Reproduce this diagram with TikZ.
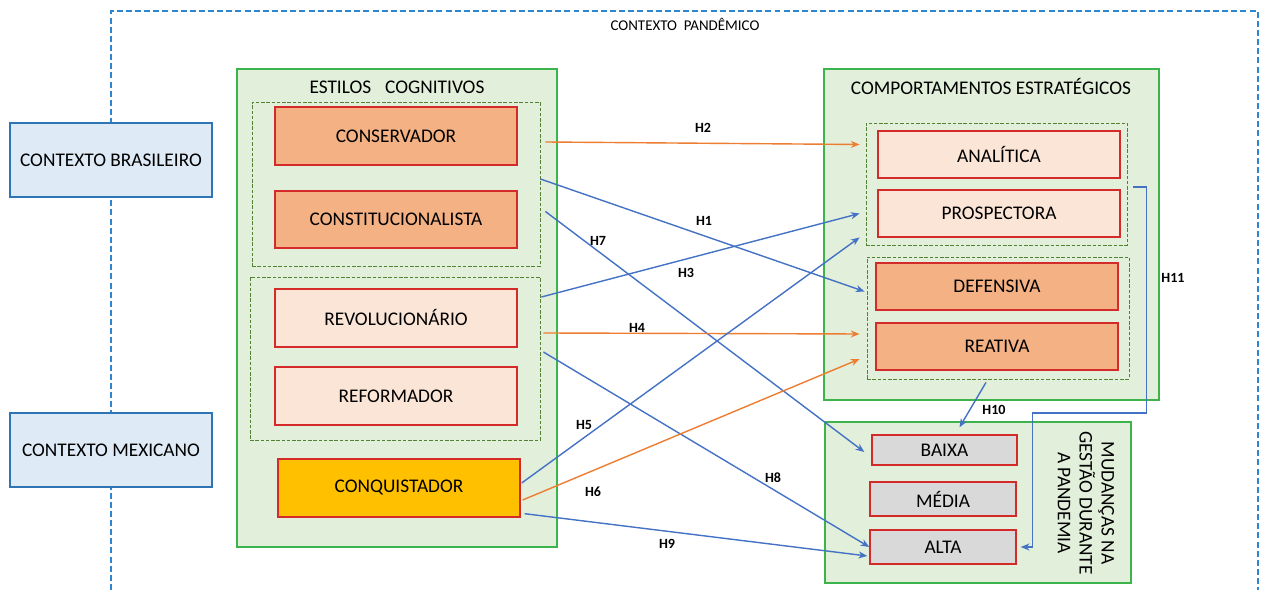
\documentclass[tikz,border=0pt]{standalone}
\usepackage{fontspec}
\setmainfont{Carlito}
\usepackage{tikz}
\usetikzlibrary{positioning,arrows.meta,calc}

\definecolor{pandblue}{HTML}{2E86D0}
\definecolor{ctxfill}{HTML}{DEEBF7}
\definecolor{ctxline}{HTML}{2E75B6}
\definecolor{grpfill}{HTML}{E2EFDA}
\definecolor{grpline}{HTML}{3CB44B}
\definecolor{dashline}{HTML}{548235}
\definecolor{boxred}{HTML}{D42A2A}
\definecolor{stylorange}{HTML}{F4B183}
\definecolor{stylpeach}{HTML}{FBE5D6}
\definecolor{stylgold}{HTML}{FFC000}
\definecolor{stylgray}{HTML}{D9D9D9}
\definecolor{arrblue}{HTML}{4472C4}
\definecolor{arrorange}{HTML}{ED7D31}

\begin{document}
\begin{tikzpicture}[
  x=0.02cm, y=-0.02cm,
  >={Stealth[length=5pt,width=4pt]},
  every node/.style={font=\fontsize{11}{12.6}\selectfont, inner sep=0pt},
  ctxbox/.style={draw=ctxline, fill=ctxfill, line width=0.9pt,
                 minimum width=4.04cm, minimum height=1.48cm},
  panel/.style={draw=grpline, fill=grpfill, line width=0.8pt},
  dashgroup/.style={draw=dashline, fill=grpfill, dash pattern=on 2pt off 1pt, line width=0.5pt},
  stylebox/.style={draw=boxred, line width=0.8pt, minimum width=4.84cm},
  harrow/.style={->, arrblue, line width=0.8pt},
  oarrow/.style={->, arrorange, line width=0.8pt},
  hlabel/.style={font=\fontsize{8}{9}\selectfont\bfseries}
]
\useasboundingbox (0,0) rectangle (1261,590);

% --- Pandemic context frame ---
\draw[pandblue, line width=0.8pt, dash pattern=on 3.4pt off 1.8pt]
  (111,590) -- (111,11) -- (1258,11) -- (1258,590);
\node[font=\fontsize{8.5}{10}\selectfont] (pandtitle) at (685,24) {CONTEXTO\ \ PANDÊMICO};

% --- Country contexts ---
\node[ctxbox] (bras) at (111,160) {CONTEXTO BRASILEIRO};
\node[ctxbox] (mex) at (111,450) {CONTEXTO MEXICANO};

% --- Cognitive styles ---
\node[panel, minimum width=6.4cm, minimum height=9.56cm] (estilos) at (397,308) {};
\node (estilostitle) at (397,87) {ESTILOS\hspace{8pt}COGNITIVOS};
\node[dashgroup, minimum width=5.76cm, minimum height=3.28cm] (grp1) at (396,184) {};
\node[dashgroup, minimum width=5.8cm, minimum height=3.26cm] (grp2) at (395,358.5) {};
\node[stylebox, fill=stylorange, minimum height=1.16cm] (conserv) at (396,136) {CONSERVADOR};
\node[stylebox, fill=stylorange, minimum height=1.14cm] (constit) at (396,219.5) {CONSTITUCIONALISTA};
\node[stylebox, fill=stylpeach, minimum height=1.16cm] (revol) at (396,318) {REVOLUCIONÁRIO};
\node[stylebox, fill=stylpeach, minimum height=1.16cm] (reform) at (396,396) {REFORMADOR};
\node[stylebox, fill=stylgold, minimum height=1.16cm] (conq) at (399,488) {CONQUISTADOR};

% --- Strategic behaviours ---
\node[panel, minimum width=6.7cm, minimum height=6.62cm] (comport) at (991.5,234.5) {};
\node (comporttitle) at (991,87) {COMPORTAMENTOS ESTRATÉGICOS};
\node[dashgroup, minimum width=5.22cm, minimum height=2.44cm] (grpA) at (996.5,184) {};
\node[dashgroup, minimum width=5.24cm, minimum height=2.44cm] (grpB) at (998,318) {};
\node[stylebox, fill=stylpeach, minimum height=0.94cm] (analit) at (999,154.5) {ANALÍTICA};
\node[stylebox, fill=stylpeach, minimum height=0.94cm] (prosp) at (999,213.5) {PROSPECTORA};
\node[stylebox, fill=stylorange, minimum height=0.94cm] (defens) at (997,286.5) {DEFENSIVA};
\node[stylebox, fill=stylorange, minimum height=0.94cm] (reat) at (997,346.5) {REATIVA};

% --- Changes in management ---
\node[panel, minimum width=6.12cm, minimum height=3.22cm] (mudanc) at (978,502.5) {};
\node[stylebox, fill=stylgray, minimum width=2.9cm, minimum height=0.6cm] (baixa) at (944.5,450) {BAIXA};
\node[stylebox, fill=stylgray, minimum width=2.92cm, minimum height=0.68cm] (media) at (943,499) {MÉDIA};
\node[stylebox, fill=stylgray, minimum width=2.92cm, minimum height=0.68cm] (alta) at (943,547) {ALTA};
\node[rotate=-90, align=center, font=\fontsize{11}{12.4}\selectfont] (mudanctitle) at (1086,503)
  {MUDANÇAS NA\\GESTÃO DURANTE\\A PANDEMIA};

% --- Hypotheses ---
\draw[oarrow] ($(conserv.east -| grp1.east)+(5,6)$) -- ($(analit.west -| grpA.west)+(-6,-10)$);
\draw[harrow] ($(grp1.east)+(0,-5)$) -- ($(defens.west -| grpB.west)+(-2,5)$);
\draw[harrow] ($(constit.east -| grp1.east)+(5,-8)$) -- ($(baixa.west)+(-7,2)$);
\draw[harrow] ($(revol.east -| grp2.east)+(1,-21)$) -- ($(prosp.west -| grpA.west)+(-6,0)$);
\draw[oarrow] ($(revol.east -| grp2.east)+(3,15)$) -- ($(reat.west -| grpB.west)+(-7,-12.5)$);
\draw[harrow] ($(revol.east -| grp2.east)+(3,34)$) -- (alta.west);
\draw[harrow] ($(conq.east)+(1,-5)$) -- ($(grpA.south west)+(-6,-8)$);
\draw[oarrow] ($(conq.east)+(2,12)$) -- ($(reat.west -| grpB.west)+(-7,12.5)$);
\draw[harrow] ($(conq.south east)+(4,-4)$) -- ($(alta.west)+(-2,9)$);
\draw[harrow] ($(grpB.south)+(-12,3)$) -- ($(baixa.north)+(15,-7)$);
\draw[harrow] ($(grpA.east)+(6,3)$) -- ($(grpA.east)+(19,3)$)
  |- ($(alta.east)+(16,-134)$) |- ($(alta.east)+(4,0)$);

% --- Hypothesis labels ---
\node[hlabel] (lh1) at (704,221) {H1};
\node[hlabel] (lh2) at (703,128) {H2};
\node[hlabel] (lh3) at (686,273) {H3};
\node[hlabel] (lh4) at (637,328) {H4};
\node[hlabel] (lh5) at (584,425) {H5};
\node[hlabel] (lh6) at (593,492) {H6};
\node[hlabel] (lh7) at (598,241) {H7};
\node[hlabel] (lh8) at (773,478) {H8};
\node[hlabel] (lh9) at (667,544) {H9};
\node[hlabel] (lh10) at (994,410) {H10};
\node[hlabel] (lh11) at (1173,278) {H11};

\end{tikzpicture}
\end{document}
